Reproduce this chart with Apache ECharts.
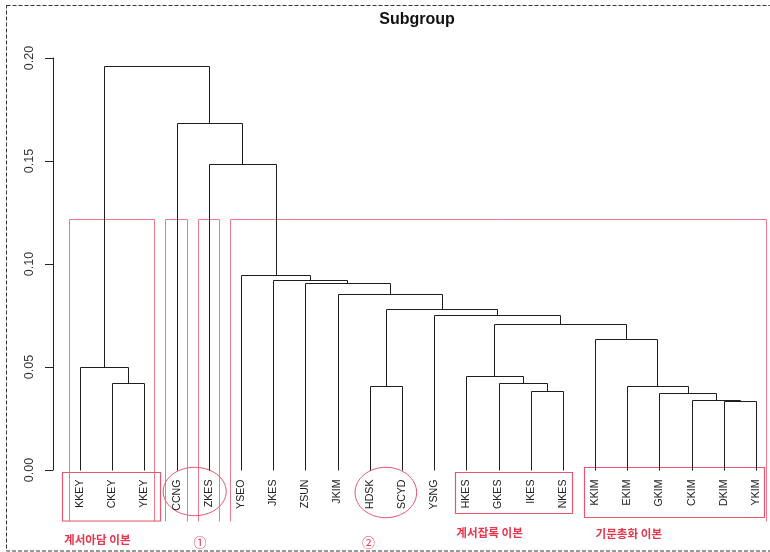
<!DOCTYPE html>
<html>
<head>
<meta charset="utf-8">
<script src="https://cdn.jsdelivr.net/npm/echarts@6/dist/echarts.min.js"></script>
<style>
  html, body { margin: 0; padding: 0; background: #ffffff; }
  #chart { width: 770px; height: 552px; }
</style>
</head>
<body>
<div id="chart"></div>
<script>
// Leaves in dendrogram order (left to right)
const leafLabels = ['KKEY','CKEY','YKEY','CCNG','ZKES','YSEO','JKES','ZSUN','JKIM','HDSK','SCYD',
                    'YSNG','HKES','GKES','IKES','NKES','KKIM','EKIM','GKIM','CKIM','DKIM','YKIM'];

// Agglomeration steps, hclust style: negative = leaf position, positive = earlier step
const mergeLeft  = [-21, -20, -19, -15, -18, -10, -14,  -2, -13,  -1, -17,  9, -12,  6,  -9,  -8,  -7,  -6,  -5,  -4, 10];
const mergeRight = [-22,   1,   2, -16,   3, -11,   4,  -3,   7,   8,   5, 11,  12, 13,  14,  15,  16,  17,  18,  19, 20];
const mergeHeight = [0.0333, 0.0338, 0.0374, 0.0383, 0.0406, 0.0409, 0.0422, 0.0422, 0.0456, 0.0501, 0.0636,
                     0.0709, 0.0752, 0.0780, 0.0853, 0.0906, 0.0924, 0.0947, 0.1487, 0.1686, 0.1959];

// Y axis ticks
const yTicks = [0, 0.05, 0.10, 0.15, 0.20];

// Highlighted groups
const tallBoxes   = [['KKEY','YKEY'], ['CCNG','CCNG'], ['ZKES','ZKES'], ['YSEO','YKIM']];
const labelBoxes  = [['KKEY','YKEY'], ['HKES','NKES'], ['KKIM','YKIM']];
const groupNames  = ['계서아담 이본', '계서잡록 이본', '기문총화 이본'];
const circledPairs = [['CCNG','ZKES'], ['HDSK','SCYD']];
const circleMarks  = ['①', '②'];

// ---- build branch segments from the merge table ----
const nodeX = [], nodeH = [];
function childPos(ref) {
  if (ref < 0) return [-ref, 0];
  return [nodeX[ref - 1], nodeH[ref - 1]];
}
const branchData = [];
for (let i = 0; i < mergeHeight.length; i++) {
  const a = childPos(mergeLeft[i]);
  const b = childPos(mergeRight[i]);
  nodeX.push((a[0] + b[0]) / 2);
  nodeH.push(mergeHeight[i]);
  branchData.push([a[0], a[1], b[0], b[1], mergeHeight[i]]);
}
const leafData = leafLabels.map((name, i) => [i + 1, 0, name]);
const pos = name => leafLabels.indexOf(name) + 1;

const RED_LINE = '#f0788c';
const RED_BOX = '#e9566b';
const RED_TEXT = '#e6364f';
const crisp = p => [Math.round(p[0]) + 0.5, Math.round(p[1]) + 0.5];

function renderBranch(params, api) {
  const xa = api.value(0), ya = api.value(1), xb = api.value(2), yb = api.value(3), h = api.value(4);
  const pts = [api.coord([xa, ya]), api.coord([xa, h]), api.coord([xb, h]), api.coord([xb, yb])].map(crisp);
  return {
    type: 'polyline',
    shape: { points: pts },
    style: { stroke: '#1e1e1e', lineWidth: 1, fill: null }
  };
}

function renderLeaf(params, api) {
  const p = api.coord([api.value(0), 0]);
  return {
    type: 'text',
    x: p[0], y: p[1] + 9.5,
    rotation: Math.PI / 2,
    style: {
      text: leafLabels[params.dataIndex],
      font: '10.6px "Liberation Sans", Arial, sans-serif',
      fill: '#222',
      align: 'right',
      verticalAlign: 'middle'
    }
  };
}

// Annotation layout (pixel / leaf-unit offsets)
const tallTop = 0.1217, tallBottomPx = 521.5;
const labelBoxPad = [
  { l: 0.57, r: 0.48, top: 472.5, bottom: 521 },
  { l: 0.35, r: 0.27, top: 472.5, bottom: 513.5 },
  { l: 0.34, r: 0.26, top: 467.5, bottom: 517.5 }
];
const captionLayout = [
  { dx: 1.5, y: 540 },
  { dx: 0.8, y: 533 },
  { dx: 11, y: 533.5 }
];
const circleLayout = [
  { dx: 2, cy: 491.5, rx: 31.5, ry: 24.2, markX: 200, markY: 542 },
  { dx: 0, cy: 492.5, rx: 30.8, ry: 25.2, markX: 368.5, markY: 542 }
];

function renderAnnotations(params, api) {
  const children = [];
  tallBoxes.forEach(([f, t]) => {
    const l = api.coord([pos(f) - 0.35, tallTop]);
    const r = api.coord([pos(t) + 0.31, tallTop]);
    const x1 = Math.round(l[0]) + 0.5, x2 = Math.round(r[0]) + 0.5, y1 = Math.round(l[1]) + 0.5;
    children.push({
      type: 'polyline',
      shape: { points: [[x1, tallBottomPx], [x1, y1], [x2, y1], [x2, tallBottomPx]] },
      style: { stroke: RED_LINE, lineWidth: 1, fill: null }
    });
  });
  labelBoxes.forEach(([f, t], i) => {
    const pad = labelBoxPad[i];
    const l = api.coord([pos(f) - pad.l, 0]);
    const r = api.coord([pos(t) + pad.r, 0]);
    const x1 = Math.round(l[0]) + 0.5, x2 = Math.round(r[0]) + 0.5;
    children.push({
      type: 'rect',
      shape: { x: x1, y: pad.top, width: x2 - x1, height: pad.bottom - pad.top },
      style: { stroke: RED_BOX, lineWidth: 1.2, fill: null }
    });
    children.push({
      type: 'text',
      x: x1 + captionLayout[i].dx, y: captionLayout[i].y,
      style: {
        text: groupNames[i],
        font: 'bold 11.6px "Noto Sans CJK KR", sans-serif',
        fill: RED_TEXT, align: 'left', verticalAlign: 'middle'
      }
    });
  });
  circledPairs.forEach(([a, b], i) => {
    const c = api.coord([(pos(a) + pos(b)) / 2, 0]);
    const lay = circleLayout[i];
    children.push({
      type: 'ellipse',
      shape: { cx: c[0] + lay.dx, cy: lay.cy, rx: lay.rx, ry: lay.ry },
      style: { stroke: RED_BOX, lineWidth: 1, fill: null }
    });
    children.push({
      type: 'text',
      x: lay.markX, y: lay.markY,
      style: {
        text: circleMarks[i],
        font: '13px "Noto Sans CJK KR", sans-serif',
        fill: RED_TEXT, align: 'center', verticalAlign: 'middle'
      }
    });
  });
  return { type: 'group', children };
}

// Plot region runs past the right edge of the canvas; x range is trimmed to the visible part
const LEAF_STEP = 32.19;
const X_MIN = 0.16;
const GRID_LEFT = 53, GRID_W = 770 - GRID_LEFT;
const X_MAX = X_MIN + GRID_W / LEAF_STEP;

const chart = echarts.init(document.getElementById('chart'), null, { renderer: 'canvas' });
chart.setOption({
  animation: false,
  backgroundColor: '#ffffff',
  grid: { left: GRID_LEFT, top: 58, right: 0, height: 412, containLabel: false },
  xAxis: { type: 'value', min: X_MIN, max: X_MAX, show: false },
  yAxis: {
    type: 'value',
    min: yTicks[0], max: yTicks[yTicks.length - 1], interval: 0.05,
    splitLine: { show: false },
    axisLine: { show: true, lineStyle: { color: '#222', width: 1 } },
    axisTick: { show: true, length: 8, lineStyle: { color: '#222' } },
    axisLabel: {
      rotate: 90, margin: 17,
      alignMinLabel: 'center', alignMaxLabel: 'center',
      fontFamily: '"Liberation Sans", Arial, sans-serif', fontSize: 12.5, color: '#333',
      formatter: v => v.toFixed(2)
    }
  },
  graphic: [
    {
      type: 'rect',
      shape: { x: 6.5, y: 5.5, width: 800, height: 545.5 },
      style: { stroke: '#333', lineWidth: 1, lineDash: [4, 2], fill: null },
      silent: true, z: 100
    },
    {
      type: 'text', x: 417, y: 20,
      style: {
        text: 'Subgroup', font: 'bold 16px "Liberation Sans", Arial, sans-serif',
        fill: '#111', align: 'center', verticalAlign: 'middle'
      }
    }
  ],
  series: [
    { type: 'custom', name: 'annotations', data: [[0, 0]], renderItem: renderAnnotations, silent: true, z: 1 },
    { type: 'custom', name: 'branches', data: branchData, renderItem: renderBranch, silent: true, z: 3,
      encode: { x: [0, 2], y: [1, 3, 4] } },
    { type: 'custom', name: 'leaves', data: leafData, renderItem: renderLeaf, silent: true, z: 3,
      encode: { x: 0, y: 1 } }
  ]
});
</script>
</body>
</html>
